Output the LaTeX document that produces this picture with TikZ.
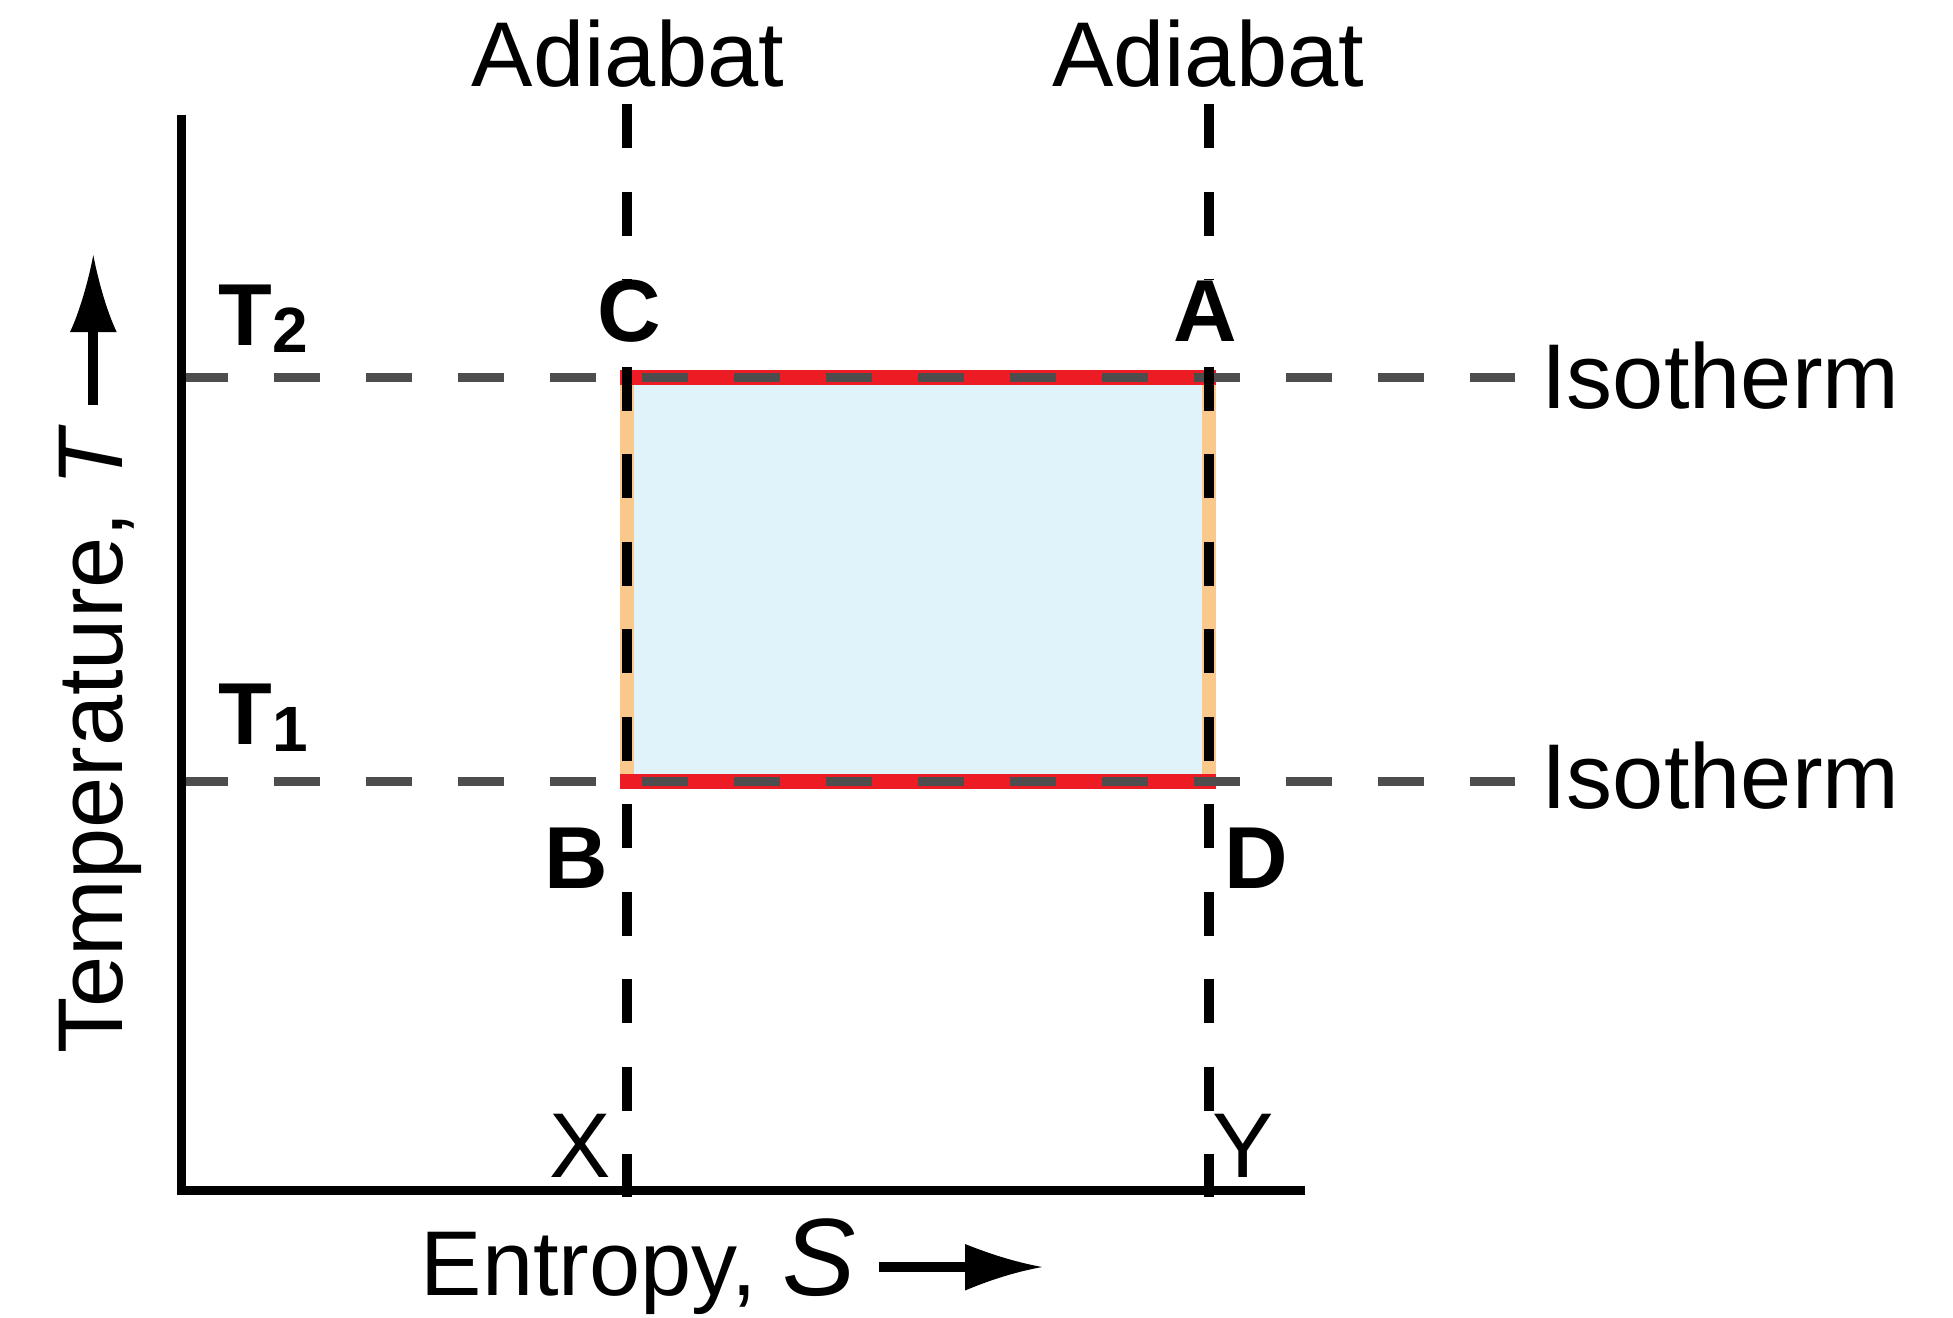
\documentclass[tikz,border=0pt]{standalone}
\usepackage{fontspec}
\setmainfont{Liberation Sans}
\definecolor{fillblue}{HTML}{E0F3FA}
\definecolor{orng}{HTML}{FAC88A}
\definecolor{redline}{HTML}{ED1C24}
\definecolor{isogray}{HTML}{4D4D4D}
\begin{document}
\begin{tikzpicture}[x=0.5pt,y=-0.5pt,
  reglabel/.style={inner sep=0pt,font=\fontsize{46pt}{55pt}\selectfont},
  boldlabel/.style={inner sep=0pt,font=\fontsize{44pt}{53pt}\selectfont\bfseries},
  axisline/.style={line width=4.5pt,black},
  isoline/.style={line width=4.5pt,isogray,dash pattern=on 23pt off 23pt},
  adialine/.style={line width=5pt,black,dash pattern=on 22pt off 21.75pt},
  redband/.style={line width=7.5pt,redline},
  orngband/.style={line width=7pt,orng},
]
\useasboundingbox (0,0) rectangle (1953,1317);
% key coordinates
\coordinate (O) at (181.5,1190.5);
\coordinate (ytop) at (181.5,115);
\coordinate (xend) at (1305,1190.5);
\coordinate (C) at (627,377.5);
\coordinate (A) at (1208.5,377.5);
\coordinate (B) at (627,781);
\coordinate (D) at (1208.5,781);
% cycle area
\fill[fillblue] (C) rectangle (D);
\draw[orngband] (C) -- (B);
\draw[orngband] (A) -- (D);
\draw[redband] ([xshift=-3.5pt]C) -- ([xshift=3.5pt]A);
\draw[redband] ([xshift=-3.5pt]B) -- ([xshift=3.5pt]D);
% isotherms
\coordinate (iso1s) at (181.5,377.5);
\coordinate (iso1e) at (1515,377.5);
\coordinate (iso2s) at (181.5,781);
\coordinate (iso2e) at (1515,781);
\draw[isoline] (iso1s) -- (iso1e);
\draw[isoline] (iso2s) -- (iso2e);
% adiabats
\coordinate (ad1s) at (627,104);
\coordinate (ad1e) at (627,1197);
\coordinate (ad2s) at (1208.5,104);
\coordinate (ad2e) at (1208.5,1197);
\draw[adialine] (ad1s) -- (ad1e);
\draw[adialine] (ad2s) -- (ad2e);
% axes
\draw[axisline] (ytop) -- (O) -- (xend);
% up arrow
\coordinate (uatip) at (93.3,255);
\draw[line width=5.3pt] (93,405) -- (93,328);
\fill (uatip) .. controls (98,280) and (107,312) .. (116.7,332) -- (70,332) .. controls (79.6,312) and (88.6,280) .. (uatip) -- cycle;
% right arrow
\coordinate (ratip) at (1042,1267);
\draw[line width=5.35pt] (879,1267) -- (968,1267);
\fill (ratip) .. controls (1015,1262) and (990,1254) .. (965,1244) -- (965,1290.5) .. controls (990,1280) and (1015,1272) .. (ratip) -- cycle;
% labels
\node[reglabel,anchor=base] (adl1) at (628,86) {Adiabat};
\node[reglabel,anchor=base] (adl2) at (1208,86) {Adiabat};
\node[reglabel,anchor=base west] (isol1) at (1541,408) {Isotherm};
\node[reglabel,anchor=base west] (isol2) at (1541,808) {Isotherm};
\node[reglabel,anchor=base west] (xlab) at (420.5,1295) {Entropy, {\fontsize{55pt}{60pt}\selectfont\itshape S}};
\node[reglabel,anchor=base west,rotate=90] (ylab) at (122,1054) {Temperature, \textit{T}};
\node[boldlabel,anchor=base west] (t2) at (218,345) {T\raisebox{-3.5pt}{\fontsize{32pt}{36pt}\selectfont 2}};
\node[boldlabel,anchor=base west] (t1) at (218,744) {T\raisebox{-3.5pt}{\fontsize{32pt}{36pt}\selectfont 1}};
\node[boldlabel,anchor=base,fill=white] (lc) at (629,341) {C};
\node[boldlabel,anchor=base,fill=white] (la) at (1205,341) {A};
\node[boldlabel,anchor=base] (lb) at (576,888) {B};
\node[boldlabel,anchor=base] (ld) at (1256.5,888) {D};
\node[reglabel,anchor=base] (lx) at (580,1177) {X};
\node[reglabel,anchor=base] (ly) at (1243,1177) {Y};
\end{tikzpicture}
\end{document}
